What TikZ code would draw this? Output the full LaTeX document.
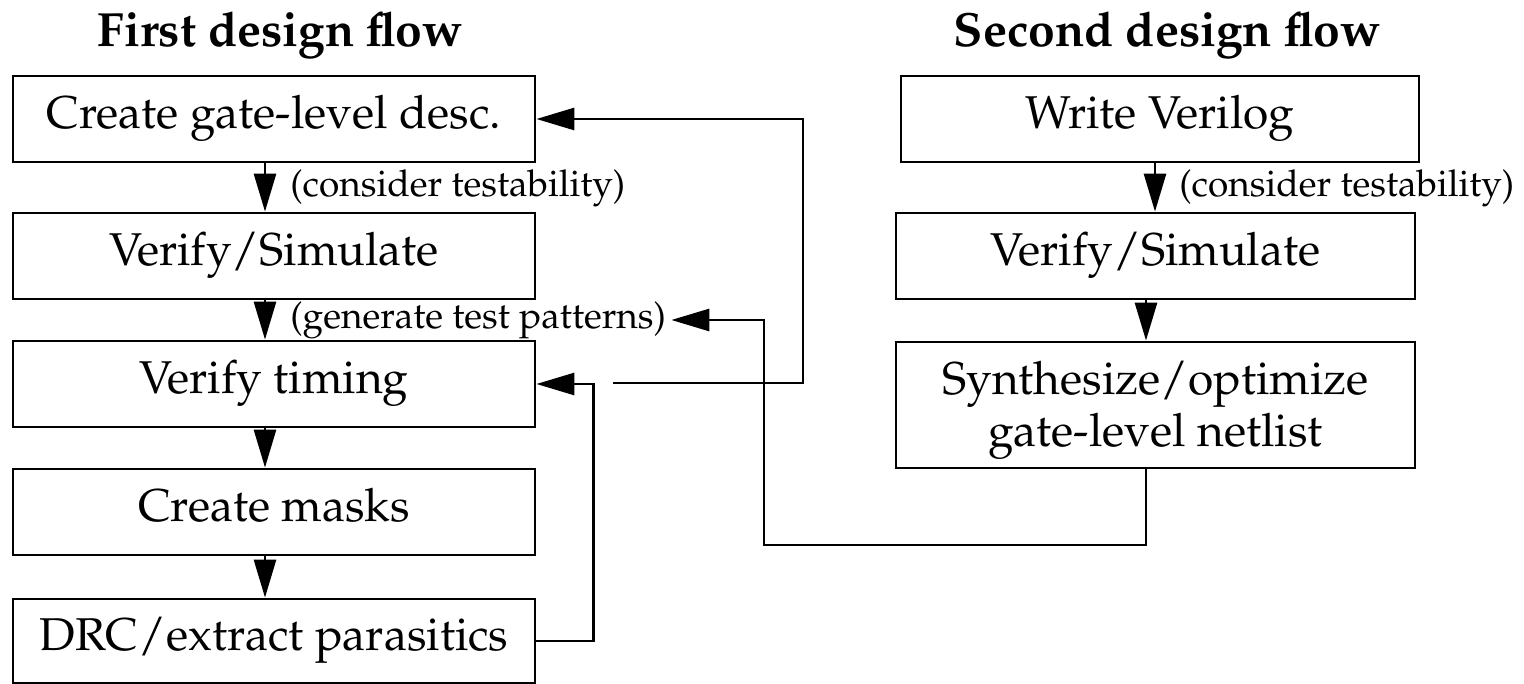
\documentclass[tikz,border=0pt]{standalone}
\usepackage[T1]{fontenc}
\usepackage{mathpazo}
\usetikzlibrary{arrows.meta}
\newcommand{\boxfont}{\fontsize{11.5}{13}\selectfont}
\newcommand{\lblfont}{\fontsize{9.25}{11}\selectfont}
\newcommand{\ttlfont}{\fontsize{12}{14}\selectfont\bfseries}
\begin{document}
\begin{tikzpicture}[x=0.25pt,y=-0.25pt,
  line width=0.7pt,
  arr/.style={-{Triangle[length=9.5pt,width=5.5pt]}},
  flowbox/.style={draw, line width=0.7pt, inner sep=0pt, minimum height=21.5pt,
    font=\boxfont, text height=0.69em, text depth=0.21em},
  twobox/.style={draw, line width=0.7pt, inner sep=0pt, minimum height=31.5pt,
    font=\boxfont, align=center, text height=20.9pt, text depth=0pt},
  lbl/.style={font=\lblfont, inner sep=1pt, anchor=west},
  ttl/.style={font=\ttlfont, inner sep=0pt, anchor=base}]
\useasboundingbox (0,0) rectangle (1524,684);
% titles
\node[ttl] (t1) at (280,47) {First design flow};
\node[ttl] (t2) at (1167,47) {Second design flow};
% first flow
\node[flowbox, minimum width=130.5pt] (A) at (274,119) {Create gate-level desc.};
\node[flowbox, minimum width=130.5pt] (B) at (274,256) {Verify/Simulate};
\node[flowbox, minimum width=130.5pt] (C) at (274,384) {Verify timing};
\node[flowbox, minimum width=130.5pt] (D) at (274,512) {Create masks};
\node[flowbox, minimum width=130.5pt, minimum height=21pt] (E) at (274,641) {DRC/extract parasitics};
% second flow
\node[flowbox, minimum width=129.5pt] (F) at (1160,119) {Write Verilog};
\node[flowbox, minimum width=129.75pt] (G) at (1155.5,256) {Verify/Simulate};
\node[twobox, minimum width=129.75pt] (H) at (1155.5,405) {Synthesize/optimize\\gate-level netlist};
% labels
\node[lbl] (l1) at (285,188) {(consider testability)};
\node[lbl] (l2) at (285,320) {(generate test patterns)};
\node[lbl] (l3) at (1174,188) {(consider testability)};
% helper coordinates
\coordinate (lx) at (265,0);
\coordinate (fx) at (1155,0);
\coordinate (gx) at (1146,0);
\coordinate (fb) at (613,383);
\coordinate (c1) at (764,545);
% vertical arrows
\draw[arr] (A.south -| lx) -- (B.north -| lx);
\draw[arr] (B.south -| lx) -- (C.north -| lx);
\draw[arr] (C.south -| lx) -- (D.north -| lx);
\draw[arr] (D.south -| lx) -- (E.north -| lx);
\draw[arr] (F.south -| fx) -- (G.north -| fx);
\draw[arr] (G.south -| gx) -- (H.north -| gx);
% feedback connectors
\draw[arr] (E.east) -- ++(57,0) |- (C.east);
\draw[arr] (fb) -- ++(190,0) |- (A.east);
\draw[arr] (H.south -| gx) |- (c1) |- (l2.east);
\end{tikzpicture}
\end{document}
